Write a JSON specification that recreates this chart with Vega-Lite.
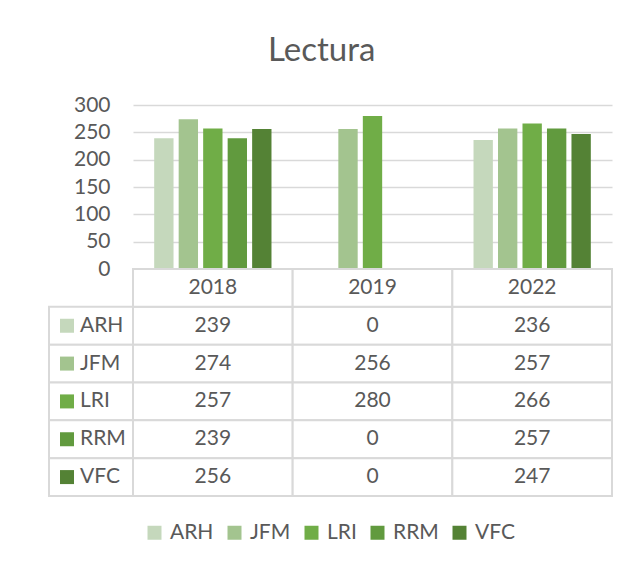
{
  "$schema": "https://vega.github.io/schema/vega-lite/v6.json",
  "padding": {"left": 48, "top": 35, "right": 20, "bottom": 26},
  "background": "white",
  "title": {"text": "Lectura", "fontSize": 33, "font": "Lato", "fontWeight": "normal", "color": "#595959", "anchor": "start", "dx": 220, "offset": 26},
  "datasets": {
    "scores": [
      {"series": "ARH", "year": "2018", "value": 239},
      {"series": "ARH", "year": "2019", "value": 0},
      {"series": "ARH", "year": "2022", "value": 236},
      {"series": "JFM", "year": "2018", "value": 274},
      {"series": "JFM", "year": "2019", "value": 256},
      {"series": "JFM", "year": "2022", "value": 257},
      {"series": "LRI", "year": "2018", "value": 257},
      {"series": "LRI", "year": "2019", "value": 280},
      {"series": "LRI", "year": "2022", "value": 266},
      {"series": "RRM", "year": "2018", "value": 239},
      {"series": "RRM", "year": "2019", "value": 0},
      {"series": "RRM", "year": "2022", "value": 257},
      {"series": "VFC", "year": "2018", "value": 256},
      {"series": "VFC", "year": "2019", "value": 0},
      {"series": "VFC", "year": "2022", "value": 247}
    ]
  },
  "data": {"name": "scores"},
  "columns": 2,
  "spacing": 0,
  "bounds": "flush",
  "resolve": {"scale": {"x": "independent", "y": "independent", "color": "shared"}},
  "concat": [
    {
      "width": 84,
      "height": 164,
      "transform": [{"aggregate": [{"op": "count", "as": "n"}]}],
      "mark": {"type": "text", "text": ""},
      "encoding": {}
    },
    {
      "width": 479,
      "height": 164,
      "mark": {"type": "bar"},
      "encoding": {
        "x": {"field": "year", "type": "nominal", "scale": {"paddingInner": 0, "paddingOuter": 0}, "axis": null},
        "xOffset": {"field": "series", "type": "nominal", "scale": {"paddingInner": 0.21, "paddingOuter": 0.865}},
        "y": {
          "field": "value", "type": "quantitative",
          "scale": {"domain": [0, 300], "nice": false},
          "axis": {"values": [0, 50, 100, 150, 200, 250, 300], "grid": true, "gridColor": "#d9d9d9", "gridWidth": 1.3, "domain": false, "ticks": false, "labelPadding": 23, "labelFontSize": 21, "labelFont": "Lato", "labelColor": "#595959", "title": null}
        },
        "color": {
          "field": "series", "type": "nominal",
          "scale": {"domain": ["ARH", "JFM", "LRI", "RRM", "VFC"], "range": ["#c5d8bc", "#a3c48f", "#70ad47", "#619a3e", "#548235"]},
          "legend": {"orient": "none", "legendX": 95, "legendY": 417, "direction": "horizontal", "symbolType": "square", "symbolSize": 196, "symbolStrokeWidth": 0, "symbolOpacity": 1, "labelFontSize": 21, "labelFont": "Lato", "labelColor": "#595959", "columnPadding": 10, "labelOffset": 5, "title": null}
        }
      }
    },
    {
      "width": 84,
      "height": 227,
      "transform": [{"aggregate": [{"op": "count", "as": "n"}], "groupby": ["series"]}],
      "encoding": {
        "y": {"field": "series", "type": "nominal", "scale": {"domain": ["hdr", "ARH", "JFM", "LRI", "RRM", "VFC"], "paddingInner": 0, "paddingOuter": 0}, "axis": null}
      },
      "layer": [
        {"mark": {"type": "rect", "fill": "white", "stroke": "#d9d9d9", "strokeWidth": 2}},
        {"mark": {"type": "point", "shape": "square", "filled": true, "size": 196, "opacity": 1}, "encoding": {"x": {"value": 18}, "color": {"field": "series", "type": "nominal"}}},
        {"mark": {"type": "text", "align": "left", "baseline": "middle", "fontSize": 21, "font": "Lato", "color": "#595959"}, "encoding": {"x": {"value": 31}, "text": {"field": "series"}}}
      ]
    },
    {
      "width": 479,
      "height": 227,
      "layer": [
        {
          "encoding": {
            "x": {"field": "year", "type": "nominal", "scale": {"paddingInner": 0, "paddingOuter": 0}, "axis": null},
            "y": {"field": "series", "type": "nominal", "scale": {"domain": ["hdr", "ARH", "JFM", "LRI", "RRM", "VFC"], "paddingInner": 0, "paddingOuter": 0}, "axis": null}
          },
          "layer": [
            {"mark": {"type": "rect", "fill": "white", "stroke": "#d9d9d9", "strokeWidth": 2}},
            {"mark": {"type": "text", "align": "center", "baseline": "middle", "fontSize": 21, "font": "Lato", "color": "#595959"}, "encoding": {"text": {"field": "value"}}}
          ]
        },
        {
          "transform": [{"aggregate": [{"op": "count", "as": "n"}], "groupby": ["year"]}],
          "encoding": {
            "x": {"field": "year", "type": "nominal"},
            "y": {"datum": "hdr", "type": "nominal"}
          },
          "layer": [
            {"mark": {"type": "rect", "fill": "white", "stroke": "#d9d9d9", "strokeWidth": 2}},
            {"mark": {"type": "text", "align": "center", "baseline": "middle", "fontSize": 21, "font": "Lato", "color": "#595959"}, "encoding": {"text": {"field": "year"}}}
          ]
        }
      ]
    }
  ],
  "config": {
    "font": "Lato",
    "view": {"stroke": null}
  }
}
